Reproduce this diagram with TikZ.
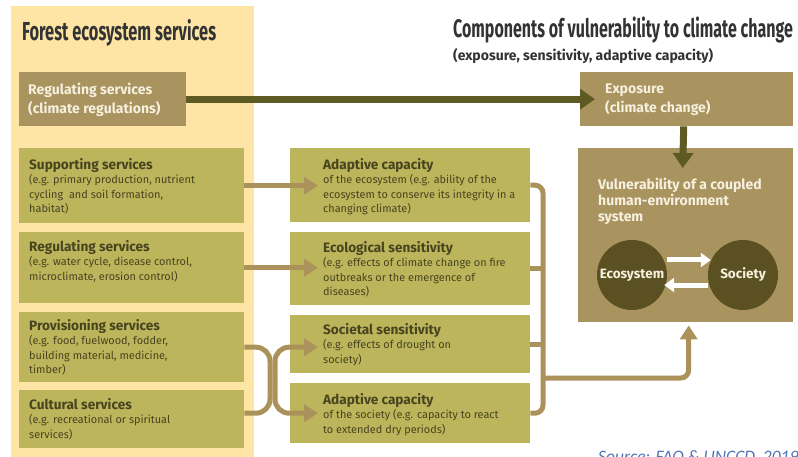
\documentclass[tikz,border=0pt]{standalone}
\usepackage{fontspec}
\setmainfont{Fira Sans}
\newfontfamily\headfont{Fira Sans}[FakeStretch=0.63]
\newfontfamily\srcfont{Carlito}
\usetikzlibrary{arrows.meta,positioning}
\definecolor{panelyel}{HTML}{FEE5A5}
\definecolor{svcolive}{HTML}{BDB55C}
\definecolor{tanbox}{HTML}{A99460}
\definecolor{tanline}{HTML}{AA925A}
\definecolor{darkolive}{HTML}{5D5A24}
\definecolor{circolive}{HTML}{5A5021}
\definecolor{inkdark}{HTML}{48441F}
\definecolor{inklight}{HTML}{F6F0DE}
\definecolor{titlegray}{HTML}{333333}
\definecolor{srcblue}{HTML}{4F74B8}

% heading line inside the service boxes
\newcommand{\hd}[1]{{\fontsize{13.6}{15}\selectfont\bfseries #1}}

\begin{document}
\begin{tikzpicture}[
  x=1pt, y=-1pt,
  svcbox/.style={rectangle, fill=svcolive, anchor=north west, inner sep=0pt},
  tanpanel/.style={rectangle, fill=tanbox, anchor=north west, inner sep=0pt},
  svctext/.style={anchor=north west, align=left, inner sep=0pt, text=inkdark,
    font=\fontsize{10.9}{14.5}\selectfont},
  tantext/.style={anchor=north west, align=left, inner sep=0pt, text=inklight,
    font=\fontsize{14}{19}\selectfont\bfseries},
  hub/.style={circle, fill=circolive, minimum size=70pt, inner sep=0pt,
    text=inklight, font=\fontsize{13.5}{15}\selectfont\bfseries},
  title/.style={anchor=base west, inner sep=0pt, text=titlegray,
    font=\headfont\fontsize{26}{28}\selectfont\bfseries},
  feed/.style={->, draw=tanline, line width=5pt,
    >={Triangle[length=14pt, width=17pt]}},
  link/.style={draw=tanline, line width=5pt, rounded corners=8pt},
  bigflow/.style={->, draw=darkolive, line width=7pt,
    >={Triangle[length=15pt, width=20pt]}},
  swap/.style={->, draw=white, line width=5pt,
    >={Triangle[length=10pt, width=14pt]}}
]
\useasboundingbox (0,0) rectangle (798,457);

% left column background
\fill[panelyel] (11,6) rectangle (254,460);

% titles
\node[title] (lefttitle) at (22,41) {Forest ecosystem services};
\node[title, font=\headfont\fontsize{25.4}{27}\selectfont\bfseries] (righttitle) at (453,38)
  {Components of vulnerability to climate change};
\node[anchor=base west, inner sep=0pt, text=titlegray,
  font=\fontsize{14}{16}\selectfont\bfseries] (subtitle) at (453,61)
  {(exposure, sensitivity, adaptive capacity)};

% top row
\node[tanpanel, minimum width=167pt, minimum height=54pt] (climreg) at (19,72) {};
\node[tantext] (climregtxt) at ([shift={(9pt,-11pt)}]climreg.north west)
  {Regulating services\\(climate regulations)};
\node[tanpanel, minimum width=213pt, minimum height=54pt] (expo) at (580,72) {};
\node[tantext] (expotxt) at ([shift={(25pt,-12pt)}]expo.north west)
  {Exposure\\(climate change)};

% forest ecosystem services
\node[svcbox, minimum width=225pt, minimum height=75pt] (supp) at (19,148) {};
\node[svcbox, minimum width=225pt, minimum height=71pt] (regs) at (19,232) {};
\node[svcbox, minimum width=225pt, minimum height=70pt] (prov) at (19,312) {};
\node[svcbox, minimum width=225pt, minimum height=58pt] (cult) at (19,390) {};

\node[svctext] (supptxt) at ([shift={(10pt,-10pt)}]supp.north west)
  {\hd{Supporting services}\\(e.g. primary production, nutrient\\cycling\ \ and soil formation,\\habitat)};
\node[svctext] (regstxt) at ([shift={(10pt,-8pt)}]regs.north west)
  {\hd{Regulating services}\\(e.g. water cycle, disease control,\\microclimate, erosion control)};
\node[svctext] (provtxt) at ([shift={(10pt,-7pt)}]prov.north west)
  {\hd{Provisioning services}\\(e.g. food, fuelwood, fodder,\\building material, medicine,\\timber)};
\node[svctext] (culttxt) at ([shift={(10pt,-8pt)}]cult.north west)
  {\hd{Cultural services}\\(e.g. recreational or spiritual\\services)};

% sensitivity and adaptive capacity
\node[svcbox, minimum width=240pt, minimum height=74pt] (aceco) at (290,148) {};
\node[svcbox, minimum width=240pt, minimum height=73pt] (ecosens) at (290,232) {};
\node[svcbox, minimum width=240pt, minimum height=58pt] (socsens) at (290,315) {};
\node[svcbox, minimum width=240pt, minimum height=60pt] (acsoc) at (290,383) {};

\node[svctext] (acecotxt) at ([shift={(33pt,-10pt)}]aceco.north west)
  {\hd{Adaptive capacity}\\of the ecosystem (e.g. ability of the\\ecosystem to conserve its integrity in a\\changing climate)};
\node[svctext] (ecosenstxt) at ([shift={(33pt,-9pt)}]ecosens.north west)
  {\hd{Ecological sensitivity}\\(e.g. effects of climate change on fire\\outbreaks or the emergence of\\diseases)};
\node[svctext] (socsenstxt) at ([shift={(33pt,-8pt)}]socsens.north west)
  {\hd{Societal sensitivity}\\(e.g. effects of drought on\\society)};
\node[svctext] (acsoctxt) at ([shift={(33pt,-10pt)}]acsoc.north west)
  {\hd{Adaptive capacity}\\of the society (e.g. capacity to react\\to extended dry periods)};

% coupled system
\node[tanpanel, minimum width=215pt, minimum height=174pt] (vuln) at (578,148) {};
\node[tantext, font=\fontsize{14}{16}\selectfont\bfseries] (vulntxt)
  at ([shift={(20pt,-30pt)}]vuln.north west)
  {Vulnerability of a coupled\\human-environment\\system};
\node[hub] (eco) at (632,275) {Ecosystem};
\node[hub] (soc) at (743,275) {Society};
\draw[swap] ([yshift=15pt]eco.east) -- ([yshift=15pt,xshift=3pt]soc.west);
\draw[swap] ([yshift=-10pt]soc.west) -- ([yshift=-10pt,xshift=-3pt]eco.east);

% exposure path
\draw[bigflow] (climreg.east) -- ([xshift=15pt]expo.west);
\draw[bigflow] ([xshift=-3pt]expo.south) -- ([xshift=-3pt,yshift=-20pt]vuln.north);

% services feeding the components
\draw[feed] (supp.east) -- ([xshift=28pt]supp.east -| aceco.west);
\draw[feed] (regs.east) -- ([xshift=28pt]regs.east -| ecosens.west);
\coordinate (jl) at (270,380);
\coordinate (jr) at (275,380);
\draw[link, rounded corners=14pt] (prov.east) -| (jl) |- (cult.east |- acsoc.west);
\draw[feed, rounded corners=14pt] (jr) |- ([xshift=28pt]prov.east -| socsens.west);
\draw[feed, rounded corners=14pt] (jr) |- ([xshift=28pt]acsoc.west);

% components collected into the coupled system
\coordinate (bus) at (543,378);
\draw[link] (aceco.east) -| (bus);
\draw[link] (acsoc.east) -| (bus);
\draw[link] (ecosens.east) -- (ecosens.east -| bus);
\draw[link] (socsens.east) -- (socsens.east -| bus);
\draw[feed, rounded corners=8pt] (bus) -| ([xshift=3pt,yshift=-3pt]vuln.south);

\node[anchor=base west, inner sep=0pt, text=srcblue,
  font=\srcfont\itshape\fontsize{17.5}{20}\selectfont] (src) at (598,462)
  {Source: FAO \& UNCCD, 2019};
\end{tikzpicture}
\end{document}
